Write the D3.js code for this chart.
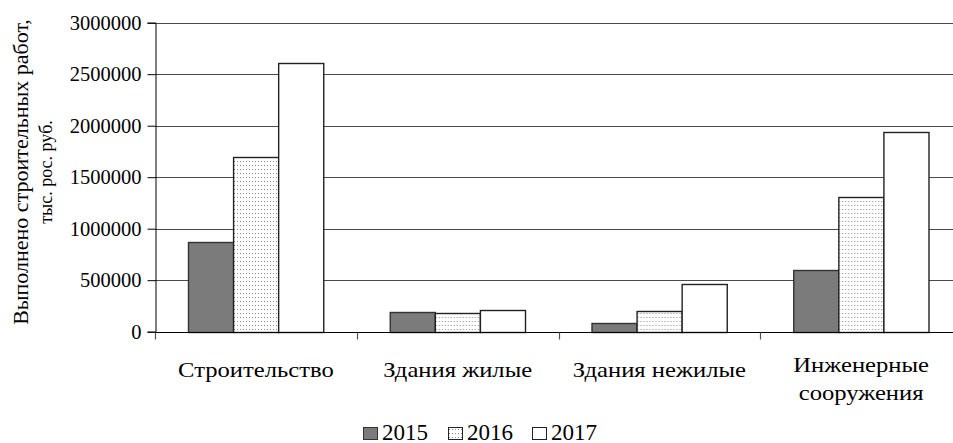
<!DOCTYPE html>
<html><head><meta charset="utf-8"><script src="https://cdn.jsdelivr.net/npm/d3@7"></script></head>
<body style="margin:0">
<svg id="s" width="953" height="443"></svg>
<script>
// ---- data ----
const categories = ["Строительство", "Здания жилые", "Здания нежилые", "Инженерные сооружения"];
const categoryLines = [["Строительство"], ["Здания жилые"], ["Здания нежилые"], ["Инженерные", "сооружения"]];
const years = ["2015", "2016", "2017"];
const values2015 = [875000, 195000, 85000, 595000];
const values2016 = [1695000, 185000, 205000, 1310000];
const values2017 = [2610000, 210000, 462000, 1940000];
const yTicks = [0, 500000, 1000000, 1500000, 2000000, 2500000, 3000000];
const yTitleLines = ["Выполнено строительных работ,", "тыс. рос. руб."];

const seriesValues = [values2015, values2016, values2017];

// ---- layout ----
const s = d3.select("#s");
const mLeft = 155, mRight = 962, mTop = 22.7, mBottom = 331.7;
const F = "Liberation Serif";

function serif(sel, size) {
  return sel.style("font-family", `'${F}'`).style("font-size", size + "px").attr("fill", "#000");
}

const x0 = d3.scaleBand().domain(categories).range([mLeft, mRight]).padding(0);
const x1 = d3.scaleBand().domain(years).range([33, x0.bandwidth() - 33.5]).padding(0);
const y = d3.scaleLinear().domain([0, 3000000]).range([mBottom, mTop]);

// patterns
const defs = s.append("defs");
const pat = defs.append("pattern").attr("id", "dots").attr("patternUnits", "userSpaceOnUse")
  .attr("width", 3).attr("height", 4);
pat.append("rect").attr("width", 3).attr("height", 4).attr("fill", "#fff");
pat.append("rect").attr("x", 1).attr("y", 1).attr("width", 1).attr("height", 1).attr("fill", "#8a8a8a");

const fills = {"2015": "#7b7b7b", "2016": "url(#dots)", "2017": "#ffffff"};
const strokes = {"2015": "#333", "2016": "#222", "2017": "#222"};

// gridlines
s.append("g").selectAll("line").data(yTicks.filter(d => d > 0)).join("line")
  .attr("x1", mLeft).attr("x2", 953)
  .attr("y1", d => Math.round(y(d)) + 0.5).attr("y2", d => Math.round(y(d)) + 0.5)
  .attr("stroke", "#4a4a4a").attr("stroke-width", 1.2);

// y axis
const yAxis = s.append("g").attr("transform", `translate(${mLeft + 0.5},0)`)
  .call(d3.axisLeft(y).tickValues(yTicks).tickFormat(d3.format("d")).tickSize(8).tickPadding(6));
yAxis.attr("font-family", null).attr("font-size", null);
yAxis.select(".domain").attr("stroke", "#000");
yAxis.selectAll(".tick line").attr("stroke", "#000");
serif(yAxis.selectAll("text"), 20.5);

// bars
const groups = s.append("g").selectAll("g").data(categories).join("g")
  .attr("transform", d => `translate(${x0(d)},0)`);
groups.selectAll("rect").data((c, i) => years.map((yr, j) => ({yr, v: seriesValues[j][i]}))).join("rect")
  .attr("x", d => x1(d.yr) + 0.5)
  .attr("y", d => Math.round(y(d.v)) + 0.5)
  .attr("width", x1.bandwidth())
  .attr("height", d => Math.round(mBottom) - Math.round(y(d.v)))
  .attr("fill", d => fills[d.yr])
  .attr("stroke", d => strokes[d.yr])
  .attr("stroke-width", 1.4);

// x axis
const xAxisG = s.append("g").attr("transform", `translate(0,${Math.round(mBottom) + 0.5})`);
xAxisG.append("line").attr("x1", mLeft).attr("x2", 953).attr("stroke", "#000").attr("stroke-width", 1.2);
const boundaries = categories.map(c => x0(c)).concat([mRight]);
xAxisG.selectAll("line.tk").data(boundaries).join("line").attr("class", "tk")
  .attr("x1", d => Math.round(d) + 0.5).attr("x2", d => Math.round(d) + 0.5)
  .attr("y1", 0).attr("y2", 7).attr("stroke", "#555").attr("stroke-width", 1.2);

// category labels
const catStretch = 1.12;
categories.forEach((c, i) => {
  const lines = categoryLines[i];
  const cx = x0(c) + x0.bandwidth() / 2;
  const baseY = lines.length === 1 ? 377 : 372;
  const g = s.append("g").attr("transform", `translate(${cx},${baseY}) scale(${catStretch},1)`);
  const t = serif(g.append("text").attr("text-anchor", "middle"), 22);
  lines.forEach((ln, k) => {
    t.append("tspan").attr("x", 0).attr("y", k * 28.5).text(ln);
  });
});

// y title
const titleSizes = [22, 18];
const titleX = [28, 52];
yTitleLines.forEach((ln, k) => {
  serif(s.append("text").attr("text-anchor", "middle"), titleSizes[k])
    .attr("transform", `translate(${titleX[k]},172) rotate(-90)`)
    .text(ln);
});

// legend
const legendX = [363, 448, 532];
const lg = s.append("g").selectAll("g").data(years).join("g")
  .attr("transform", (d, i) => `translate(${legendX[i]},0)`);
lg.append("rect").attr("x", 0.5).attr("y", 427.5).attr("width", 14).attr("height", 12)
  .attr("fill", d => fills[d]).attr("stroke", d => strokes[d]).attr("stroke-width", 1);
serif(lg.append("text").attr("x", 19).attr("y", 439.5), 23).text(d => d);
</script>
</body></html>
